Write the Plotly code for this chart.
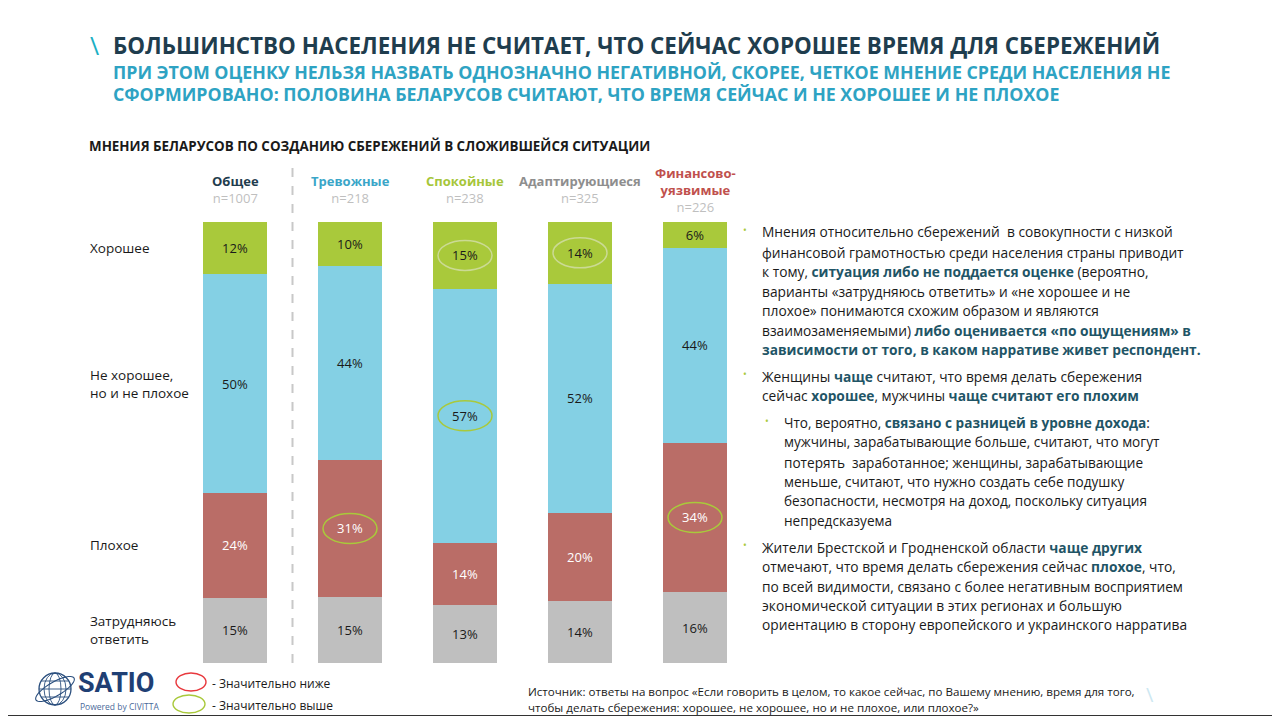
import math
import plotly.graph_objects as go

# Data
groups = ['Общее', 'Тревожные', 'Спокойные', 'Адаптирующиеся', 'Финансово-<br>уязвимые']
group_n = ['n=1007', 'n=218', 'n=238', 'n=325', 'n=226']
group_colors = ['#1F3D4E', '#3AA6C8', '#A6C63A', '#8E8E8E', '#C0504D']

# series from bottom to top of the stack
answers = ['Затрудняюсь<br>ответить', 'Плохое', 'Не хорошее,<br>но и не плохое', 'Хорошее']
hard_to_say = [15, 15, 13, 14, 16]
bad = [24, 31, 14, 20, 34]
neutral = [50, 44, 57, 52, 44]
good = [12, 10, 15, 14, 6]
series = [hard_to_say, bad, neutral, good]
bar_colors = ['#BFBFBF', '#BA6D67', '#84D0E4', '#A9C93B']
text_colors = ['#1A1A1A', '#FFFFFF', '#1A1A1A', '#1A1A1A']

# cells marked as "significantly higher" (group index, series index)
higher = [(2, 3), (3, 3), (2, 2), (1, 1), (4, 1)]

# the page puts the figure 8px in from the window edge
OX, OY = 8, 8
W, H = 1264, 708


def px(x):
    return (x - OX) / W


def py(y):
    return 1 - (y - OY) / H


fig = go.Figure()
for vals, name, col, tcol in zip(series, answers, bar_colors, text_colors):
    fig.add_trace(go.Bar(
        x=list(range(len(groups))),
        y=vals,
        name=name,
        marker=dict(color=col, line=dict(width=0)),
        width=0.557,
        text=[f'{v}%' for v in vals],
        textposition='inside',
        insidetextanchor='middle',
        textangle=0,
        constraintext='none',
        textfont=dict(size=13, color=tcol, family='Open Sans'),
        hoverinfo='skip',
    ))


# normalized cumulative positions (bars are drawn as percent of the column total)
def seg_center(g, s):
    total = sum(sr[g] for sr in series)
    below = sum(series[k][g] for k in range(s))
    return (below + series[s][g] / 2) / total * 100


shapes = []
annotations = []

# green ellipses around significant cells (paler on the green segments)
for g, s in higher:
    ring = '#CBDA94' if s == 3 else '#A9C93B'
    shapes.append(dict(type='circle', xref='x', yref='y', xsizemode='pixel', ysizemode='pixel',
                       xanchor=g, yanchor=seg_center(g, s), x0=-27, x1=27, y0=-15, y1=15,
                       line=dict(color=ring, width=1.5)))

# dashed separator after the total column
shapes.append(dict(type='line', xref='x', yref='paper', x0=0.5, x1=0.5, y0=py(663), y1=py(163),
                   line=dict(color='#C8C8C8', width=2, dash='dash')))

# column headers
for i, (gname, n, c) in enumerate(zip(groups, group_n, group_colors)):
    annotations.append(dict(xref='x', yref='paper', x=i, y=py(189.5), yanchor='middle',
                            text=f'<b><span style="color:{c}">{gname}</span></b><br>'
                                 f'<span style="color:#BFBFBF">{n}</span>',
                            showarrow=False, font=dict(size=13, family='Open Sans')))

# row labels aligned with the total column
for s, name in enumerate(answers):
    annotations.append(dict(xref='paper', yref='y', x=px(88), y=seg_center(0, s),
                            xanchor='left', yanchor='middle', align='left', text=name,
                            showarrow=False, font=dict(size=13.5, color='#1A1A1A', family='Open Sans')))

# titles
annotations += [
    dict(xref='paper', yref='paper', x=px(88), y=py(45), xanchor='left', yanchor='middle',
         text='\\', showarrow=False, font=dict(size=25, color='#1BAFC4', family='Open Sans')),
    dict(xref='paper', yref='paper', x=px(111), y=py(45), xanchor='left', yanchor='middle',
         text='<b>БОЛЬШИНСТВО НАСЕЛЕНИЯ НЕ СЧИТАЕТ, ЧТО СЕЙЧАС ХОРОШЕЕ ВРЕМЯ ДЛЯ СБЕРЕЖЕНИЙ</b>',
         showarrow=False, font=dict(size=22.4, color='#1F3D4E', family='Open Sans')),
    dict(xref='paper', yref='paper', x=px(111), y=py(72), xanchor='left', yanchor='middle',
         text='<b>ПРИ ЭТОМ ОЦЕНКУ НЕЛЬЗЯ НАЗВАТЬ ОДНОЗНАЧНО НЕГАТИВНОЙ, СКОРЕЕ, ЧЕТКОЕ МНЕНИЕ СРЕДИ НАСЕЛЕНИЯ НЕ</b>',
         showarrow=False, font=dict(size=17.8, color='#2EA3C3', family='Open Sans')),
    dict(xref='paper', yref='paper', x=px(111), y=py(94), xanchor='left', yanchor='middle',
         text='<b>СФОРМИРОВАНО: ПОЛОВИНА БЕЛАРУСОВ СЧИТАЮТ, ЧТО ВРЕМЯ СЕЙЧАС И НЕ ХОРОШЕЕ И НЕ ПЛОХОЕ</b>',
         showarrow=False, font=dict(size=17.8, color='#2EA3C3', family='Open Sans')),
    dict(xref='paper', yref='paper', x=px(87), y=py(146), xanchor='left', yanchor='middle',
         text='<b>МНЕНИЯ БЕЛАРУСОВ ПО СОЗДАНИЮ СБЕРЕЖЕНИЙ В СЛОЖИВШЕЙСЯ СИТУАЦИИ</b>',
         showarrow=False, font=dict(size=13.4, color='#1A1A1A', family='Open Sans')),
]

# commentary on the right
HL = '#1F5566'


def hl(t):
    return f'<b><span style="color:{HL}">{t}</span></b>'


comment_lines = [
    (760, 232, 'Мнения относительно сбережений  в совокупности с низкой', True),
    (760, 252, 'финансовой грамотностью среди населения страны приводит', False),
    (760, 271, 'к тому, ' + hl('ситуация либо не поддается оценке') + ' (вероятно,', False),
    (760, 291, 'варианты «затрудняюсь ответить» и «не хорошее и не', False),
    (760, 310, 'плохое» понимаются схожим образом и являются', False),
    (760, 330, 'взаимозаменяемыми) ' + hl('либо оценивается «по ощущениям» в'), False),
    (760, 349, hl('зависимости от того, в каком нарративе живет респондент.'), False),
    (760, 376, 'Женщины ' + hl('чаще') + ' считают, что время делать сбережения', True),
    (760, 395, 'сейчас ' + hl('хорошее') + ', мужчины ' + hl('чаще считают его плохим'), False),
    (782, 423, 'Что, вероятно, ' + hl('связано с разницей в уровне дохода') + ':', True),
    (782, 442, 'мужчины, зарабатывающие больше, считают, что могут', False),
    (782, 462, 'потерять  заработанное; женщины, зарабатывающие', False),
    (782, 481, 'меньше, считают, что нужно создать себе подушку', False),
    (782, 500, 'безопасности, несмотря на доход, поскольку ситуация', False),
    (782, 520, 'непредсказуема', False),
    (760, 547, 'Жители Брестской и Гродненской области ' + hl('чаще других'), True),
    (760, 566, 'отмечают, что время делать сбережения сейчас ' + hl('плохое') + ', что,', False),
    (760, 586, 'по всей видимости, связано с более негативным восприятием', False),
    (760, 605, 'экономической ситуации в этих регионах и большую', False),
    (760, 624, 'ориентацию в сторону европейского и украинского нарратива', False),
]
for x, y, t, bullet in comment_lines:
    size = 13.6 if x > 770 else 13.75
    annotations.append(dict(xref='paper', yref='paper', x=px(x), y=py(y), xanchor='left',
                            yanchor='middle', text=t, showarrow=False,
                            font=dict(size=size, color='#1A1A1A', family='Open Sans')))
    if bullet:
        annotations.append(dict(xref='paper', yref='paper', x=px(x - 15), y=py(y - 2),
                                xanchor='center', yanchor='middle', text='•', showarrow=False,
                                font=dict(size=10, color='#A9C93B', family='Open Sans')))

# legend for ellipses
for yy, x0, x1, col, label in [(682, 176, 206, '#E8383D', '- Значительно ниже'),
                               (704, 173, 205, '#A9C93B', '- Значительно выше')]:
    shapes.append(dict(type='circle', xref='paper', yref='paper', x0=px(x0), x1=px(x1),
                       y0=py(yy + 9), y1=py(yy - 9), line=dict(color=col, width=1.4)))
    annotations.append(dict(xref='paper', yref='paper', x=px(210), y=py(yy + 1), xanchor='left',
                            yanchor='middle', text=label, showarrow=False,
                            font=dict(size=12, color='#1A1A1A', family='Open Sans')))

# source note
annotations += [
    dict(xref='paper', yref='paper', x=px(526), y=py(691), xanchor='left', yanchor='middle',
         text='Источник: ответы на вопрос «Если говорить в целом, то какое сейчас, по Вашему мнению, время для того,',
         showarrow=False, font=dict(size=11.6, color='#1A1A1A', family='Open Sans')),
    dict(xref='paper', yref='paper', x=px(526), y=py(707), xanchor='left', yanchor='middle',
         text='чтобы делать сбережения: хорошее, не хорошее, но и не плохое, или плохое?»',
         showarrow=False, font=dict(size=11.6, color='#1A1A1A', family='Open Sans')),
    dict(xref='paper', yref='paper', x=px(1150), y=py(694), xanchor='center', yanchor='middle',
         text='\\', showarrow=False, font=dict(size=20, color='#CDE8F2', family='Open Sans')),
]

# SATIO logo
navy = '#2B4F7E'
cx, cy, r = 55, 689, 16
shapes.append(dict(type='circle', xref='paper', yref='paper', x0=px(cx - r), x1=px(cx + r),
                   y0=py(cy + r), y1=py(cy - r), line=dict(color=navy, width=1.3)))
for rx in (6, 11):
    shapes.append(dict(type='circle', xref='paper', yref='paper', x0=px(cx - rx), x1=px(cx + rx),
                       y0=py(cy + r), y1=py(cy - r), line=dict(color=navy, width=0.9)))
for dy in (-8, 0, 8):
    half = math.sqrt(r * r - dy * dy)
    shapes.append(dict(type='line', xref='paper', yref='paper', x0=px(cx - half), x1=px(cx + half),
                       y0=py(cy + dy), y1=py(cy + dy), line=dict(color=navy, width=0.9)))
orbit = []
for k in range(41):
    t = 2 * math.pi * k / 40
    ox, oy = 22 * math.cos(t), 7 * math.sin(t)
    a = math.radians(-30)
    rx_ = ox * math.cos(a) - oy * math.sin(a)
    ry_ = ox * math.sin(a) + oy * math.cos(a)
    orbit.append((px(cx + rx_), py(cy + ry_)))
path = 'M ' + ' L '.join(f'{a:.5f},{b:.5f}' for a, b in orbit) + ' Z'
shapes.append(dict(type='path', xref='paper', yref='paper', path=path,
                   line=dict(color=navy, width=1.1)))
annotations += [
    dict(xref='paper', yref='paper', x=px(76), y=py(683), xanchor='left', yanchor='middle',
         text='<b>SATIO</b>', showarrow=False, font=dict(size=27, color='#1F3F74', family='Roboto')),
    dict(xref='paper', yref='paper', x=px(78), y=py(706), xanchor='left', yanchor='middle',
         text='Powered by CIVITTA', showarrow=False, font=dict(size=8.5, color='#4A6A9A', family='Open Sans')),
]

# bottom frame line
shapes.append(dict(type='line', xref='paper', yref='paper', x0=0, x1=1, y0=0, y1=0,
                   line=dict(color='#333333', width=2)))

fig.update_layout(
    width=W, height=H,
    barmode='stack', barnorm='percent',
    showlegend=False,
    paper_bgcolor='white', plot_bgcolor='white',
    margin=dict(l=0, r=0, t=0, b=0),
    xaxis=dict(domain=[px(177.5), px(752.5)], range=[-0.5, 4.5], visible=False, fixedrange=True),
    yaxis=dict(domain=[py(663), py(222)], range=[0, 100], visible=False, fixedrange=True),
    shapes=shapes,
    annotations=annotations,
    font=dict(family='Open Sans'),
)

fig.write_html('out.html')
